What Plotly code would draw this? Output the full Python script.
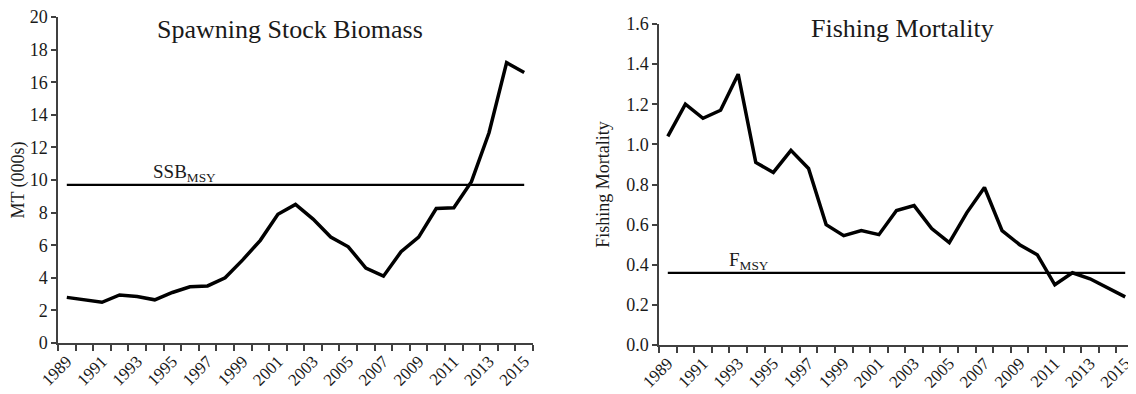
import plotly.graph_objects as go

years = list(range(1989, 2016))
ssb = [2.8, 2.65, 2.5, 2.95, 2.85, 2.65, 3.1, 3.45, 3.5, 4.0, 5.1, 6.3, 7.9, 8.5, 7.6, 6.5,
       5.9, 4.6, 4.1, 5.6, 6.5, 8.25, 8.3, 9.9, 12.9, 17.2, 16.6]
fmort = [1.04, 1.2, 1.13, 1.17, 1.35, 0.91, 0.86, 0.97, 0.88, 0.6, 0.545, 0.57, 0.55, 0.67,
         0.695, 0.58, 0.51, 0.66, 0.785, 0.57, 0.5, 0.45, 0.3, 0.36, 0.33, 0.285, 0.24]
ssb_msy = 9.7
f_msy = 0.36
tick_years = [y for y in years if y % 2 == 1]
tick_labels = [str(y) for y in tick_years]

FONT = "Liberation Serif"
AX = "#404040"
TXT = "#1a1a1a"
# page body has an 8px margin: figure is drawn at (8, 8)
W, H, OFF = 1128, 386, 8


def px(x):
    return (x - OFF) / W


def py(y):
    return 1 - (y - OFF) / H


fig = go.Figure()
fig.add_trace(go.Scatter(x=years, y=ssb, mode="lines", line=dict(color="black", width=3.5),
                         xaxis="x", yaxis="y", showlegend=False))
fig.add_trace(go.Scatter(x=[years[0], years[-1]], y=[ssb_msy, ssb_msy], mode="lines",
                         line=dict(color="black", width=2.2), xaxis="x", yaxis="y", showlegend=False))
fig.add_trace(go.Scatter(x=years, y=fmort, mode="lines", line=dict(color="black", width=3.5),
                         xaxis="x2", yaxis="y2", showlegend=False))
fig.add_trace(go.Scatter(x=[years[0], years[-1]], y=[f_msy, f_msy], mode="lines",
                         line=dict(color="black", width=2.2), xaxis="x2", yaxis="y2", showlegend=False))

xcommon = dict(range=[1988.5, 2015.5], tickvals=tick_years, ticktext=tick_labels, tickangle=-45,
               ticks="", showgrid=False, zeroline=False, showline=True, linecolor=AX, linewidth=1.5,
               automargin=False, ticklabeloverflow="allow", tickfont=dict(family=FONT, size=17, color=TXT),
               minor=dict(tick0=1988.5, dtick=1, ticks="outside", ticklen=6, tickcolor=AX, tickwidth=1.5,
                          showgrid=False))
ycommon = dict(showgrid=False, zeroline=False, showline=True, linecolor=AX, linewidth=1.5,
               ticks="outside", ticklen=5, tickcolor=AX, tickwidth=1.5, automargin=False,
               ticklabeloverflow="allow", tickfont=dict(family=FONT, size=18, color=TXT))

fig.update_layout(
    width=W, height=H, margin=dict(l=0, r=0, t=0, b=0),
    paper_bgcolor="white", plot_bgcolor="white",
    xaxis=dict(domain=[px(58), px(533)], anchor="y", **xcommon),
    yaxis=dict(domain=[py(343), py(17)], anchor="x", range=[0, 20], dtick=2,
               title=dict(text="MT (000s)", font=dict(family=FONT, size=18, color=TXT), standoff=2),
               **ycommon),
    xaxis2=dict(domain=[px(659), px(1134)], anchor="y2", **xcommon),
    yaxis2=dict(domain=[py(345), py(24)], anchor="x2", range=[0, 1.6], dtick=0.2, tickformat=".1f",
                title=dict(text="Fishing Mortality", font=dict(family=FONT, size=18, color=TXT), standoff=12),
                **ycommon),
    annotations=[
        dict(text="Spawning Stock Biomass", x=px(290), y=py(30), xref="paper", yref="paper",
             xanchor="center", yanchor="middle",
             showarrow=False, font=dict(family=FONT, size=26, color=TXT)),
        dict(text="Fishing Mortality", x=px(902), y=py(29), xref="paper", yref="paper",
             xanchor="center", yanchor="middle",
             showarrow=False, font=dict(family=FONT, size=26, color=TXT)),
        dict(text="SSB<sub>MSY</sub>", x=1995.7, y=ssb_msy, xref="x", yref="y", yanchor="bottom",
             xanchor="center", showarrow=False, yshift=-2, font=dict(family=FONT, size=19, color=TXT)),
        dict(text="F<sub>MSY</sub>", x=1993.6, y=f_msy, xref="x2", yref="y2", yanchor="bottom",
             xanchor="center", showarrow=False, yshift=-2, font=dict(family=FONT, size=19, color=TXT)),
    ],
)

fig.write_html("out.html")
